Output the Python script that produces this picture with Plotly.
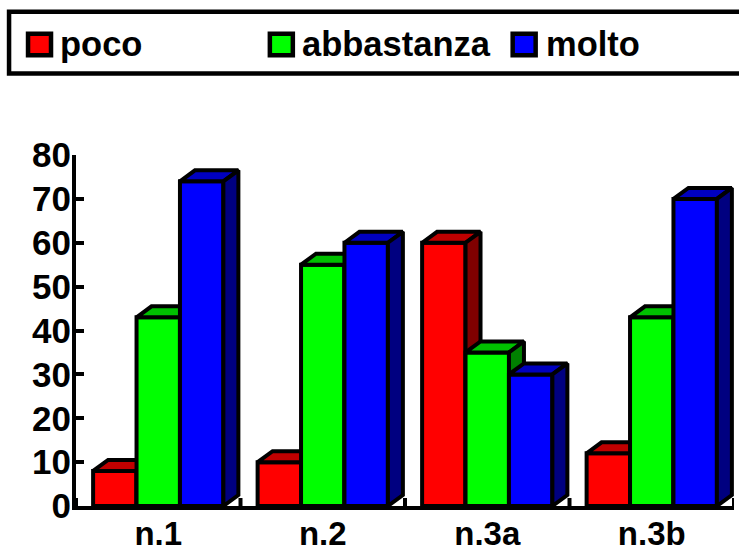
import plotly.graph_objects as go

categories = ["n.1", "n.2", "n.3a", "n.3b"]
series_names = ["poco", "abbastanza", "molto"]
poco = [8, 10, 60, 12]
abbastanza = [43, 55, 35, 43]
molto = [74, 60, 30, 70]
y_ticks = [0, 10, 20, 30, 40, 50, 60, 70, 80]

series_values = [poco, abbastanza, molto]
front = ["#FF0000", "#00FF00", "#0000FF"]
top = ["#C00000", "#00C000", "#0000C0"]
side = ["#800000", "#008000", "#000080"]

W, H = 739, 548
L, R, T, B = 76, 4.5, 154.5, 42
FONT = "Liberation Sans"
LW = 4
BAR_W = 0.264
DX = 15 / ((W - L - R) / 4)
DY = 11 / ((H - T - B) / 80)
PW, PH = W - L - R, H - T - B


def px(x):
    return (x - L) / PW


def py(y):
    return (H - B - y) / PH


fig = go.Figure()
for i, (name, vals) in enumerate(zip(series_names, series_values)):
    suffix = "" if i == 0 else str(i + 1)
    xa, ya = "x" + suffix, "y" + suffix
    offset = -1.5 * BAR_W + i * BAR_W
    positions = list(range(len(categories)))
    fig.add_trace(go.Bar(
        x=positions, y=vals, name=name, width=BAR_W, offset=offset,
        marker=dict(color=front[i], line=dict(color="black", width=LW)),
        xaxis=xa, yaxis=ya, showlegend=False,
    ))
    for p, v in zip(positions, vals):
        x0 = p + offset
        x1 = x0 + BAR_W
        fig.add_trace(go.Scatter(
            x=[x0, x0 + DX, x1 + DX, x1, x0], y=[v, v + DY, v + DY, v, v],
            mode="lines", fill="toself", fillcolor=top[i],
            line=dict(color="black", width=LW), xaxis=xa, yaxis=ya,
            showlegend=False, hoverinfo="skip", cliponaxis=False,
        ))
        fig.add_trace(go.Scatter(
            x=[x1, x1 + DX, x1 + DX, x1, x1], y=[v, v + DY, DY, 0, v],
            mode="lines", fill="toself", fillcolor=side[i],
            line=dict(color="black", width=LW), xaxis=xa, yaxis=ya,
            showlegend=False, hoverinfo="skip", cliponaxis=False,
        ))

layout = dict(
    width=W, height=H, margin=dict(l=L, r=R, t=T, b=B, autoexpand=False),
    paper_bgcolor="white", plot_bgcolor="white", showlegend=False,
    font=dict(family=FONT, color="black"),
    xaxis=dict(
        range=[-0.5, 3.5], tickmode="array", tickvals=[0, 1, 2, 3],
        ticktext=[f"<b>{c}</b>" for c in categories],
        tickfont=dict(size=33, family=FONT, color="black"),
        showgrid=False, zeroline=False, showline=True, linecolor="black", linewidth=LW,
        ticks="", ticklabelstandoff=-5,
    ),
    yaxis=dict(
        range=[0, 80], tickmode="array", tickvals=y_ticks,
        ticktext=[f"<b>{v}</b>" for v in y_ticks],
        tickfont=dict(size=35, family=FONT, color="black"),
        showgrid=False, zeroline=False, showline=True, linecolor="black", linewidth=LW,
        ticks="inside", ticklen=8, tickwidth=LW, tickcolor="black", ticklabelstandoff=-6,
    ),
)
for i in (2, 3):
    layout[f"xaxis{i}"] = dict(overlaying="x", range=[-0.5, 3.5], visible=False, anchor=f"y{i}")
    layout[f"yaxis{i}"] = dict(overlaying="y", range=[0, 80], visible=False, anchor=f"x{i}")

shapes = [dict(type="rect", xref="paper", yref="paper", layer="above",
               x0=px(9), x1=px(760), y0=py(73), y1=py(11),
               line=dict(color="black", width=4.5), fillcolor="rgba(0,0,0,0)")]
annotations = []
legend_x = [28, 270, 513]
legend_text_x = [58, 300, 544]
for i, name in enumerate(series_names):
    x0 = legend_x[i]
    shapes.append(dict(type="rect", xref="paper", yref="paper", layer="above",
                       x0=px(x0), x1=px(x0 + 23), y0=py(54.7), y1=py(33),
                       line=dict(color="black", width=4.5), fillcolor=front[i]))
    annotations.append(dict(xref="paper", yref="paper", x=px(legend_text_x[i]),
                            y=py(43), text=f"<b>{name}</b>", showarrow=False,
                            xanchor="left", yanchor="middle",
                            font=dict(size=34.5, family=FONT, color="black")))
# category separators along the baseline
for t in [-0.5, 0.5, 1.5, 2.5, 3.5]:
    shapes.append(dict(type="line", xref="x", yref="paper", x0=t, x1=t,
                       y0=0, y1=8 / PH, layer="above",
                       line=dict(color="black", width=LW)))
layout["shapes"] = shapes
layout["annotations"] = annotations
fig.update_layout(**layout)
fig.write_html("out.html", config={"displayModeBar": False},
               post_script="document.body.style.margin='0';")
